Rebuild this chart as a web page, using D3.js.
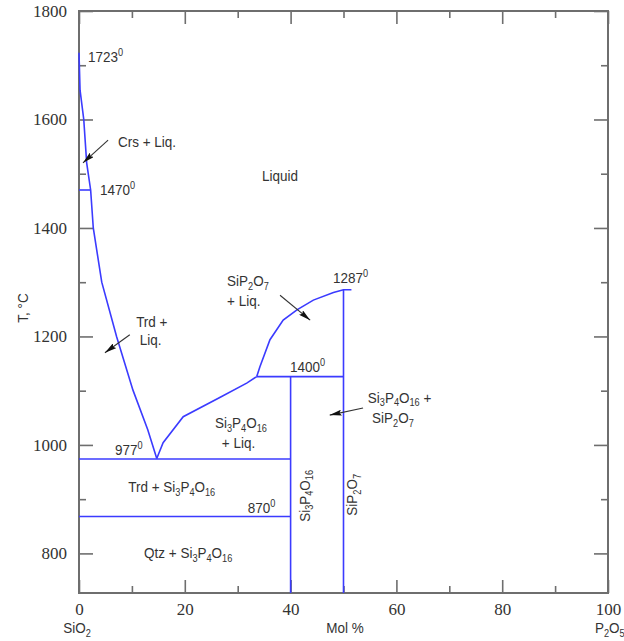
<!DOCTYPE html>
<html><head><meta charset="utf-8">
<script src="https://cdn.jsdelivr.net/npm/d3@7"></script>
<style>
html,body{margin:0;padding:0;background:#fff;}
svg{display:block;}
</style>
</head><body>
<svg id="chart" width="624" height="641"></svg>
<script>
// ---- data ----
const xMajorTicks = [0, 20, 40, 60, 80, 100];
const xMinorTicks = [10, 30, 50, 70, 90];
const yMajorTicks = [800, 1000, 1200, 1400, 1600, 1800];
const yMinorTicks = [900, 1100, 1300, 1500, 1700];

// liquidus curves [mol % P2O5, T]
const liquidusSilica = [[0,1723],[0.2,1654],[0.9,1600],[1.45,1520],[2.2,1470],[2.7,1400],[4.3,1300],[7.1,1200],[10.2,1101],[13.0,1028],[14.7,975]];
const liquidusSi3P4O16 = [[14.7,975],[15.9,1004],[19.7,1052],[26.7,1088],[31.7,1114],[33.6,1126]];
const liquidusSiP2O7 = [[33.6,1126],[34.2,1144],[36.1,1194],[38.6,1230],[41.2,1249],[44.3,1267],[48.1,1281],[50,1286],[51.5,1286]];

// isotherms [x0, x1, T]
const isotherms = [[0,2.2,1470],[0,40,974],[0,40,868],[33.6,50,1126]];
// compound lines [x, Tbottom, Ttop]
const compounds = [[40,727,1126],[50,727,1286]];

// arrows [x0,T0,x1,T1]
const arrows = [[5.5,1562,0.76,1520],[9.6,1203,4.9,1170],[38.0,1276,43.7,1230],[53.7,1068,47.4,1055]];

// labels: markup  _x = subscript, ^x = superscript
const labels = [
  ["1723^0", 1.7, 1706],
  ["Crs + Liq.", 7.37, 1549],
  ["1470^0", 3.97, 1461],
  ["Liquid", 34.6, 1487],
  ["SiP_2O_7", 28.0, 1293],
  ["+ Liq.", 28.0, 1257],
  ["1287^0", 48.0, 1299],
  ["Trd +", 10.8, 1217],
  ["Liq.", 11.5, 1184],
  ["1400^0", 39.9, 1135],
  ["Si_3P_4O_16 +", 54.6, 1078],
  ["SiP_2O_7", 55.4, 1040],
  ["Si_3P_4O_16", 25.7, 1031],
  ["+ Liq.", 27.0, 995],
  ["977^0", 6.8, 982],
  ["Trd + Si_3P_4O_16", 9.3, 913],
  ["870^0", 31.9, 875],
  ["Qtz + Si_3P_4O_16", 12.3, 792]
];
const verticalLabels = [["Si_3P_4O_16", 43.6, 906], ["SiP_2O_7", 52.6, 908]];

// ---- layout ----
const svg = d3.select("#chart");
const mLeft = 79, mRight = 608, mTop = 11, mBottom = 593;
const x = d3.scaleLinear().domain([0, 100]).range([mLeft, mRight]);
const y = d3.scaleLinear().domain([727, 1800]).range([mBottom, mTop]);

const blue = "#3b3bff";
const frame = "#6e6e6e";
const txt = "#333";
const labelFont = "'Liberation Sans',Arial,sans-serif";
const serif = "'Liberation Serif','Times New Roman',serif";
const fs = 15, sx = 0.9;

// text helper
function richText(sel, s, size) {
  const parts = [];
  let i = 0;
  while (i < s.length) {
    const c = s[i];
    if (c === "_" || c === "^") {
      let j = i + 1;
      while (j < s.length && /[0-9]/.test(s[j])) j++;
      parts.push({t: s.slice(i + 1, j), k: c === "_" ? "sub" : "sup"});
      i = j;
    } else {
      let j = i;
      while (j < s.length && s[j] !== "_" && s[j] !== "^") j++;
      parts.push({t: s.slice(i, j), k: "n"});
      i = j;
    }
  }
  let shift = 0;
  parts.forEach(p => {
    const target = p.k === "sub" ? size * 0.25 : p.k === "sup" ? -size * 0.38 : 0;
    sel.append("tspan")
      .attr("dy", target - shift)
      .attr("font-size", p.k === "n" ? size : size * 0.68)
      .text(p.t);
    shift = target;
  });
}

// axes
svg.append("g").attr("transform", `translate(0,${mBottom})`)
  .call(d3.axisBottom(x).tickValues(xMajorTicks).tickSize(-13).tickPadding(10).tickFormat(d3.format("d")));
svg.append("g").attr("transform", `translate(0,${mBottom})`)
  .call(d3.axisBottom(x).tickValues(xMinorTicks).tickSize(-7).tickFormat(""));
svg.append("g").attr("transform", `translate(0,${mTop})`)
  .call(d3.axisTop(x).tickValues(xMajorTicks).tickSize(-13).tickFormat(""));
svg.append("g").attr("transform", `translate(0,${mTop})`)
  .call(d3.axisTop(x).tickValues(xMinorTicks).tickSize(-7).tickFormat(""));
svg.append("g").attr("transform", `translate(${mLeft},0)`)
  .call(d3.axisLeft(y).tickValues(yMajorTicks).tickSize(-14).tickPadding(12).tickFormat(d3.format("d")));
svg.append("g").attr("transform", `translate(${mLeft},0)`)
  .call(d3.axisLeft(y).tickValues(yMinorTicks).tickSize(-7).tickFormat(""));
svg.append("g").attr("transform", `translate(${mRight},0)`)
  .call(d3.axisRight(y).tickValues(yMajorTicks).tickSize(-14).tickFormat(""));
svg.append("g").attr("transform", `translate(${mRight},0)`)
  .call(d3.axisRight(y).tickValues(yMinorTicks).tickSize(-7).tickFormat(""));
svg.selectAll(".domain").remove();
svg.selectAll(".tick line").attr("stroke", frame).attr("stroke-width", 1.6);
svg.selectAll("g").attr("font-family", null);
svg.selectAll(".tick text").style("font-family", serif).style("font-size", "17px").attr("fill", txt);

// frame
svg.append("rect").attr("x", mLeft).attr("y", mTop).attr("width", mRight - mLeft).attr("height", mBottom - mTop)
  .attr("fill", "none").attr("stroke", frame).attr("stroke-width", 2);

// phase lines
const line = d3.line().x(d => x(d[0])).y(d => y(d[1]));
[liquidusSilica, liquidusSi3P4O16, liquidusSiP2O7].forEach(c => {
  svg.append("path").attr("d", line(c)).attr("fill", "none").attr("stroke", blue).attr("stroke-width", 1.6);
});
svg.selectAll("line.iso").data(isotherms).join("line").attr("class", "iso")
  .attr("x1", d => x(d[0])).attr("x2", d => x(d[1])).attr("y1", d => y(d[2])).attr("y2", d => y(d[2]))
  .attr("stroke", blue).attr("stroke-width", 1.6);
svg.selectAll("line.cmp").data(compounds).join("line").attr("class", "cmp")
  .attr("x1", d => x(d[0])).attr("x2", d => x(d[0])).attr("y1", d => y(d[1])).attr("y2", d => y(d[2]))
  .attr("stroke", blue).attr("stroke-width", 1.6);

// arrows
svg.append("defs").append("marker").attr("id", "ah")
  .attr("viewBox", "0 0 12 6").attr("refX", 12).attr("refY", 3)
  .attr("markerWidth", 12).attr("markerHeight", 6).attr("markerUnits", "userSpaceOnUse")
  .attr("orient", "auto")
  .append("path").attr("d", "M0,0 L12,3 L0,6 L2,3 Z").attr("fill", "#111");
svg.selectAll("line.arr").data(arrows).join("line").attr("class", "arr")
  .attr("x1", d => x(d[0])).attr("y1", d => y(d[1])).attr("x2", d => x(d[2])).attr("y2", d => y(d[3]))
  .attr("stroke", "#333").attr("stroke-width", 1.1).attr("marker-end", "url(#ah)");

// labels
labels.forEach(l => {
  const t = svg.append("text")
    .attr("transform", `translate(${x(l[1])},${y(l[2])}) scale(${sx},1)`)
    .style("font-family", labelFont).attr("fill", txt);
  richText(t, l[0], fs);
});
verticalLabels.forEach(l => {
  const t = svg.append("text")
    .attr("transform", `translate(${x(l[1])},${y(l[2])}) rotate(-90) scale(${sx},1)`)
    .attr("text-anchor", "middle")
    .style("font-family", labelFont).attr("fill", txt);
  richText(t, l[0], fs);
});

// axis titles
svg.append("text").attr("transform", `translate(28,308) rotate(-90) scale(${sx},1)`).attr("text-anchor", "middle")
  .style("font-family", labelFont).attr("font-size", fs).attr("fill", txt).text("T, °C");
const sio2 = svg.append("text").attr("transform", `translate(77,633) scale(${sx},1)`).attr("text-anchor", "middle")
  .style("font-family", labelFont).attr("fill", txt);
richText(sio2, "SiO_2", fs);
svg.append("text").attr("transform", `translate(345,633) scale(${sx},1)`).attr("text-anchor", "middle")
  .style("font-family", labelFont).attr("font-size", fs).attr("fill", txt).text("Mol %");
const p2o5 = svg.append("text").attr("transform", `translate(595,633) scale(${sx},1)`)
  .style("font-family", labelFont).attr("fill", txt);
richText(p2o5, "P_2O_5", fs);
</script>
</body></html>
